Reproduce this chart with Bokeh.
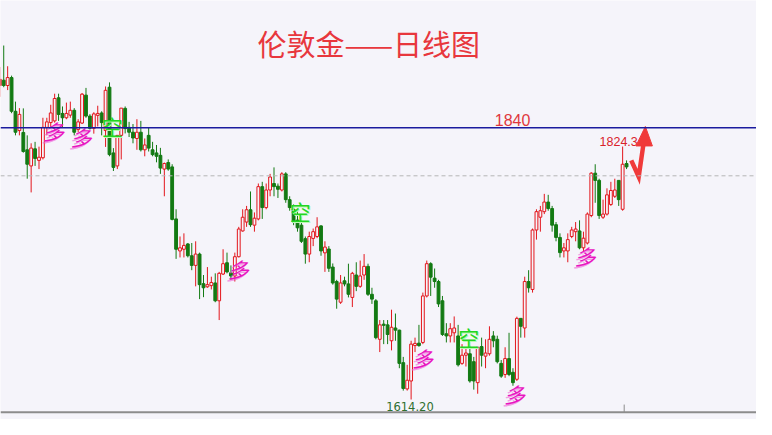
from bokeh.plotting import figure
from bokeh.models import ColumnDataSource, Range1d, Span
from bokeh.core.properties import value
from bokeh.embed import file_html
from bokeh.resources import INLINE

# ---- data (London gold, daily candles) ----
opens = [1875.0,
         1879.4, 1875.0, 1881.6, 1853.6, 1837.6, 1836.0, 1821.6, 1808.2, 1822.4, 1812.8,
         1815.0, 1840.2, 1844.2, 1845.6, 1864.8, 1851.8, 1848.2, 1850.4, 1854.4, 1838.4,
         1843.8, 1867.0, 1849.6, 1839.4, 1850.2, 1852.2, 1837.6, 1873.6, 1819.0, 1808.2,
         1833.6, 1856.0, 1840.2, 1836.2, 1831.0, 1836.2, 1821.6, 1833.6, 1821.6, 1819.0,
         1817.0, 1805.6, 1811.0, 1807.4, 1764.2, 1737.6, 1739.0, 1743.4, 1733.6, 1725.6,
         1735.0, 1710.4, 1707.8, 1708.8, 1711.0, 1696.2, 1718.4, 1727.8, 1719.4, 1716.8,
         1732.8, 1754.2, 1761.6, 1771.8, 1759.0, 1764.2, 1791.0, 1773.6, 1788.2, 1793.6,
         1791.4, 1788.2, 1801.6, 1780.2, 1772.2, 1763.2, 1759.0, 1747.8, 1735.0, 1748.0,
         1749.6, 1758.4, 1736.0, 1739.2, 1724.2, 1712.2, 1695.0, 1712.8, 1710.2, 1699.0,
         1717.6, 1708.2, 1717.6, 1724.8, 1701.6, 1696.2, 1664.2, 1676.8, 1676.2, 1663.0,
         1673.6, 1671.8, 1644.8, 1623.0, 1629.6, 1659.0, 1661.0, 1661.6, 1700.2, 1727.0,
         1715.0, 1712.2, 1696.2, 1668.8, 1667.0, 1669.6, 1667.0, 1644.2, 1651.0, 1652.2,
         1645.6, 1628.2, 1658.2, 1650.2, 1652.2, 1667.0, 1664.2, 1644.2, 1635.0, 1648.2,
         1636.8, 1631.0, 1681.6, 1673.6, 1712.2, 1705.6, 1755.0, 1765.6, 1770.2, 1778.2,
         1772.8, 1759.4, 1748.8, 1737.6, 1737.6, 1749.6, 1753.6, 1754.2, 1740.2, 1744.2,
         1767.0, 1802.2, 1796.2, 1765.6, 1768.2, 1776.2, 1783.0, 1796.2, 1772.2, 1810.2]
highs = [1890.4,
         1908.2, 1891.0, 1883.2, 1861.6, 1856.2, 1856.0, 1833.6, 1827.0, 1828.2, 1824.2,
         1848.2, 1848.2, 1859.0, 1868.2, 1868.2, 1857.6, 1860.8, 1861.6, 1856.2, 1847.0,
         1868.8, 1873.0, 1851.2, 1852.8, 1858.2, 1853.6, 1874.2, 1877.6, 1823.0, 1833.6,
         1856.2, 1857.6, 1844.8, 1843.0, 1847.0, 1845.6, 1831.0, 1840.2, 1828.2, 1825.6,
         1823.2, 1811.0, 1813.6, 1809.6, 1772.2, 1749.6, 1752.2, 1744.2, 1744.2, 1745.6,
         1736.2, 1717.6, 1724.2, 1716.2, 1719.0, 1720.2, 1739.0, 1736.2, 1725.6, 1736.2,
         1757.6, 1772.2, 1775.0, 1787.0, 1769.6, 1793.6, 1795.0, 1793.6, 1801.6, 1807.0,
         1793.6, 1803.0, 1803.0, 1783.0, 1776.2, 1771.2, 1765.6, 1749.6, 1753.6, 1756.2,
         1765.6, 1759.0, 1745.6, 1741.6, 1727.2, 1713.6, 1717.6, 1716.2, 1727.0, 1720.2,
         1728.2, 1729.6, 1735.0, 1727.0, 1707.0, 1697.6, 1680.2, 1680.2, 1680.2, 1688.8,
         1685.6, 1672.2, 1649.6, 1643.0, 1663.0, 1665.6, 1676.2, 1703.0, 1729.6, 1728.2,
         1723.0, 1713.6, 1700.2, 1677.6, 1677.6, 1683.2, 1676.2, 1660.2, 1657.6, 1659.0,
         1649.6, 1657.6, 1665.6, 1664.2, 1675.0, 1671.0, 1667.2, 1647.0, 1657.6, 1669.6,
         1640.2, 1683.0, 1681.6, 1716.2, 1721.6, 1756.2, 1772.2, 1775.0, 1785.0, 1784.2,
         1775.0, 1761.6, 1752.2, 1744.2, 1752.2, 1757.6, 1761.6, 1763.0, 1753.6, 1769.6,
         1803.0, 1809.6, 1797.6, 1780.2, 1789.6, 1795.0, 1797.6, 1796.2, 1824.3, 1812.8]
lows = [1865.6,
        1873.6, 1871.2, 1852.0, 1833.6, 1833.6, 1819.2, 1797.6, 1786.2, 1808.2, 1805.6,
        1813.6, 1833.6, 1840.2, 1844.2, 1845.6, 1840.2, 1847.0, 1848.2, 1833.6, 1836.2,
        1843.0, 1848.2, 1838.4, 1835.0, 1841.0, 1833.6, 1824.0, 1816.2, 1804.0, 1805.6,
        1813.6, 1835.2, 1832.2, 1827.0, 1821.6, 1820.2, 1816.2, 1820.2, 1816.2, 1811.2,
        1801.6, 1783.0, 1804.2, 1763.0, 1731.0, 1732.2, 1732.2, 1732.2, 1721.6, 1708.2,
        1697.6, 1699.2, 1707.0, 1705.6, 1695.0, 1680.2, 1717.6, 1719.0, 1713.6, 1712.2,
        1732.2, 1753.6, 1757.6, 1757.6, 1753.6, 1763.0, 1764.2, 1772.2, 1783.0, 1783.0,
        1781.6, 1787.0, 1777.6, 1771.0, 1759.0, 1753.6, 1744.2, 1727.0, 1728.2, 1741.6,
        1748.2, 1733.6, 1720.2, 1720.2, 1709.6, 1689.6, 1693.6, 1708.2, 1699.0, 1691.0,
        1704.2, 1707.0, 1713.6, 1700.2, 1693.6, 1664.2, 1653.6, 1660.2, 1660.2, 1655.0,
        1663.0, 1640.2, 1621.6, 1621.6, 1614.2, 1653.6, 1658.0, 1660.2, 1699.0, 1700.2,
        1707.0, 1691.0, 1667.0, 1661.6, 1661.6, 1661.6, 1641.6, 1643.0, 1641.6, 1628.2,
        1622.4, 1619.0, 1641.6, 1640.2, 1650.6, 1657.6, 1644.2, 1632.2, 1632.2, 1633.6,
        1625.6, 1629.6, 1665.6, 1665.6, 1703.0, 1703.0, 1747.0, 1753.6, 1768.2, 1771.0,
        1753.6, 1745.6, 1732.2, 1732.2, 1728.2, 1748.2, 1745.6, 1739.0, 1737.6, 1743.0,
        1765.6, 1777.6, 1764.2, 1764.2, 1767.0, 1775.0, 1781.6, 1775.0, 1771.0, 1805.6]
closes = [1880.2,
          1875.0, 1881.6, 1853.6, 1836.2, 1851.0, 1820.2, 1809.6, 1823.0, 1814.4, 1815.4,
          1840.2, 1844.8, 1852.2, 1864.2, 1851.0, 1848.2, 1851.8, 1854.4, 1836.2, 1844.8,
          1867.8, 1849.6, 1839.4, 1851.4, 1851.8, 1844.2, 1871.0, 1817.6, 1807.0, 1833.6,
          1856.2, 1839.2, 1836.2, 1831.4, 1836.2, 1821.6, 1825.6, 1823.0, 1817.6, 1816.2,
          1806.4, 1810.2, 1805.6, 1763.8, 1739.0, 1740.2, 1742.2, 1733.6, 1725.6, 1735.0,
          1709.6, 1707.0, 1709.6, 1711.4, 1696.2, 1719.0, 1727.0, 1720.2, 1716.8, 1732.8,
          1755.8, 1765.6, 1771.8, 1759.4, 1764.8, 1791.0, 1773.6, 1788.2, 1799.0, 1791.0,
          1788.8, 1801.6, 1780.2, 1773.6, 1761.6, 1756.8, 1745.6, 1735.0, 1749.6, 1753.6,
          1757.6, 1737.6, 1740.8, 1723.2, 1711.0, 1697.6, 1711.0, 1710.2, 1701.6, 1719.0,
          1708.2, 1716.8, 1724.8, 1701.6, 1697.6, 1665.6, 1676.2, 1675.8, 1668.2, 1674.2,
          1671.8, 1644.2, 1623.4, 1630.2, 1660.2, 1660.8, 1659.0, 1700.2, 1727.0, 1715.8,
          1712.2, 1693.6, 1668.2, 1667.0, 1673.0, 1673.6, 1643.0, 1651.0, 1652.8, 1629.6,
          1629.6, 1657.6, 1651.0, 1652.8, 1664.2, 1663.0, 1645.6, 1633.6, 1648.2, 1635.0,
          1628.2, 1681.6, 1675.0, 1712.2, 1707.0, 1755.0, 1770.2, 1771.0, 1778.2, 1772.8,
          1759.0, 1748.8, 1736.2, 1740.2, 1747.0, 1755.0, 1755.8, 1740.2, 1748.2, 1768.2,
          1802.2, 1796.2, 1767.0, 1768.2, 1784.2, 1787.8, 1788.2, 1780.2, 1809.6, 1807.4]
day = list(range(len(opens)))

title_text = "伦敦金——日线图"
resistance_level = 1840
dashed_level = 1800
high_label = "1824.3"
low_label = "1614.20"

# buy / sell signal marks (candle index, price)
buy_x = [13.7, 20.7, 60.9, 107.9, 131.4, 149.4]
buy_y = [1836.8, 1832.0, 1722.4, 1648.8, 1618.4, 1733.6]
sell_x = [28.7, 76.7, 119.7]
sell_y = [1841.6, 1770.4, 1666.4]

# annotation anchor positions (candle index, price)
title_pos = (94.2, 1910.4)
level_label_pos = (130.9, 1846.4)
high_label_pos = (153.1, 1828.8)
low_label_pos = (104.7, 1608.2)
arrow_shaft_x = [161.2, 163.1, 164.3]
arrow_shaft_y = [1812.8, 1799.2, 1826.0]
arrow_head_x = [162.4, 166.6, 164.8]
arrow_head_y = [1824.8, 1824.8, 1841.0]
baseline_level = 1603.6
marker_x = 159.4

BG = "#f5f4fa"
UP = "#e3161c"
DOWN = "#137a13"

p = figure(width=756, height=419, x_range=Range1d(0.175, 193.175),
           y_range=Range1d(1597.6, 1945.6), output_backend="svg",
           toolbar_location=None, x_axis_location=None, y_axis_location=None,
           min_border=0, background_fill_color=BG, border_fill_color=BG)
p.grid.visible = False
p.outline_line_color = None

p.add_layout(Span(location=dashed_level, dimension="width", line_color="#b5b5b5",
                  line_dash="4 3", line_width=1))
p.add_layout(Span(location=resistance_level, dimension="width", line_color="#1b1b9e",
                  line_width=1.5))
p.add_layout(Span(location=baseline_level, dimension="width", line_color="#8c8c8c",
                  line_width=2))
p.segment(x0=[marker_x], y0=[baseline_level], x1=[marker_x], y1=[1610.0],
          line_color="#8c8c8c", line_width=1)

up = [c >= o for o, c in zip(opens, closes)]
src = ColumnDataSource(dict(
    x=day, high=highs, low=lows,
    top=[max(o, c) for o, c in zip(opens, closes)],
    bottom=[min(o, c) for o, c in zip(opens, closes)],
    line=[UP if u else DOWN for u in up],
    fill=[BG if u else DOWN for u in up],
))
p.segment(x0="x", y0="low", x1="x", y1="high", line_color="line", line_width=1, source=src)
p.vbar(x="x", width=0.72, top="top", bottom="bottom", fill_color="fill",
       line_color="line", line_width=1, source=src)

# signal marks
p.text(x=buy_x, y=buy_y, text=["多"] * len(buy_x), text_font=value("Noto Sans CJK SC"),
       text_font_size=value("21px"), text_font_style="italic", text_color="#f060d8",
       text_alpha=0.6, x_offset=-2, y_offset=2, text_align="center", text_baseline="middle")
p.text(x=buy_x, y=buy_y, text=["多"] * len(buy_x), text_font=value("Noto Sans CJK SC"),
       text_font_size=value("21px"), text_font_style="italic", text_color="#e815c0",
       text_align="center", text_baseline="middle")
p.text(x=sell_x, y=sell_y, text=["空"] * len(sell_x), text_font=value("Noto Sans CJK SC"),
       text_font_size=value("21px"), text_color="#b8f8b0", x_offset=1, y_offset=1,
       text_align="center", text_baseline="middle")
p.text(x=sell_x, y=sell_y, text=["空"] * len(sell_x), text_font=value("Noto Sans CJK SC"),
       text_font_size=value("21px"), text_color="#22d622",
       text_align="center", text_baseline="middle")

# labels
p.text(x=[title_pos[0]], y=[title_pos[1]], text=[title_text],
       text_font=value("Noto Sans CJK SC"), text_font_size=value("29px"),
       text_color="#e8373d", text_align="center", text_baseline="middle")
p.text(x=[level_label_pos[0]], y=[level_label_pos[1]], text=[str(resistance_level)],
       text_font=value("Liberation Sans"), text_font_size=value("16px"),
       text_color="#e0373d", text_align="center", text_baseline="middle")
p.text(x=[high_label_pos[0]], y=[high_label_pos[1]], text=[high_label],
       text_font=value("Liberation Sans"), text_font_size=value("12.5px"),
       text_color="#d9222a", text_align="left", text_baseline="middle")
p.text(x=[low_label_pos[0]], y=[low_label_pos[1]], text=[low_label],
       text_font=value("DejaVu Sans"), text_font_size=value("11.5px"),
       text_color="#2f6f2f", text_align="center", text_baseline="middle")

# arrow
p.line(x=arrow_shaft_x, y=arrow_shaft_y, line_color="#f03a3a", line_width=4.5,
       line_join="miter")
p.patch(x=arrow_head_x, y=arrow_head_y, fill_color="#f03a3a", line_color="#f03a3a")

open("out.html", "w").write(file_html(p, INLINE))
